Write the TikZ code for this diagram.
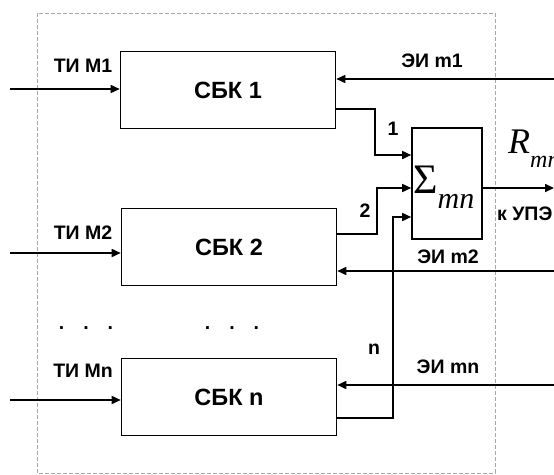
\documentclass[tikz,border=0pt]{standalone}
\usepackage{fontspec}
\setmainfont{Liberation Sans}
\newfontfamily\tnr{Liberation Serif}
\usetikzlibrary{arrows.meta,positioning,calc}

\begin{document}
\begin{tikzpicture}[
  x=1pt,y=-1pt,
  blk/.style={draw,line width=1.6pt,minimum width=215pt,minimum height=77pt,
              inner sep=0pt,font=\fontsize{23.5}{25}\selectfont\bfseries},
  sumblk/.style={draw,line width=1.6pt,minimum width=70pt,minimum height=111pt,inner sep=0pt},
  arr/.style={-{Triangle[length=9pt,width=8pt]},line width=1.6pt},
  lab/.style={font=\fontsize{19.5}{21}\selectfont\bfseries,inner sep=0pt},
  frame/.style={draw=gray!70,dash pattern=on 4pt off 2pt,line width=0.8pt}
]
\useasboundingbox (0,0) rectangle (554,474);
\clip (0,0) rectangle (554,474);
\draw[frame] (37,13) rectangle (495,473);

% blocks
\node[blk] (b1) at (228,90) {СБК 1};
\node[blk] (b2) at (229,247) {СБК 2};
\node[blk] (bn) at (229,397) {СБК n};
\node[sumblk] (s) at (447,183.5) {};
\node[font=\tnr,inner sep=0pt,anchor=base west] at (413,193)
  {\fontsize{42}{42}\selectfont Σ\raisebox{-15pt}{\fontsize{30}{30}\selectfont\itshape mn}};

% inputs
\coordinate (i1) at (10,89);
\coordinate (i2) at (10,253);
\coordinate (in) at (10,400);
\draw[arr] (i1) -- (b1.west |- i1);
\draw[arr] (i2) -- (b2.west |- i2);
\draw[arr] (in) -- (bn.west |- in);
\node[lab] at (83,66) {ТИ М1};
\node[lab] at (83,233) {ТИ М2};
\node[lab] at (83,371) {ТИ Мn};

% ЭИ
\coordinate (e1) at (560,79);
\coordinate (e2) at (560,271);
\coordinate (en) at (560,385);
\draw[arr] (e1) -- (b1.east |- e1);
\draw[arr] (e2) -- (b2.east |- e2);
\draw[arr] (en) -- (bn.east |- en);
\node[lab] at (432,61) {ЭИ m1};
\node[lab] at (448,257) {ЭИ m2};
\node[lab] at (448,367) {ЭИ mn};

% block outputs to sum
\coordinate (s1) at (s.west |- 0,155);
\coordinate (s2) at (s.west |- 0,188);
\coordinate (s3) at (s.west |- 0,217);
\draw[arr] (b1.east |- 0,109) -| (375,155) -- (s1);
\draw[arr] (b2.east |- 0,234) -| (377,188) -- (s2);
\draw[arr] (bn.east |- 0,418) -| (393,217) -- (s3);
\node[lab] at (393,129) {1};
\node[lab] at (365,211) {2};
\node[lab] at (374,349) {n};

% output
\coordinate (o) at (554,188);
\draw[arr] (s.east |- o) -- (o);
\node[font=\tnr,inner sep=0pt,anchor=base west] at (508,153)
  {\fontsize{36}{36}\selectfont\itshape R\raisebox{-14pt}{\fontsize{24}{24}\selectfont mn}};
\node[lab,anchor=base west] at (497,220) {к УПЭ};

% dots
\node[lab] at (86,328) {.\hspace{19pt}.\hspace{19pt}.};
\node[lab] at (232,328) {.\hspace{19pt}.\hspace{19pt}.};
\end{tikzpicture}
\end{document}
